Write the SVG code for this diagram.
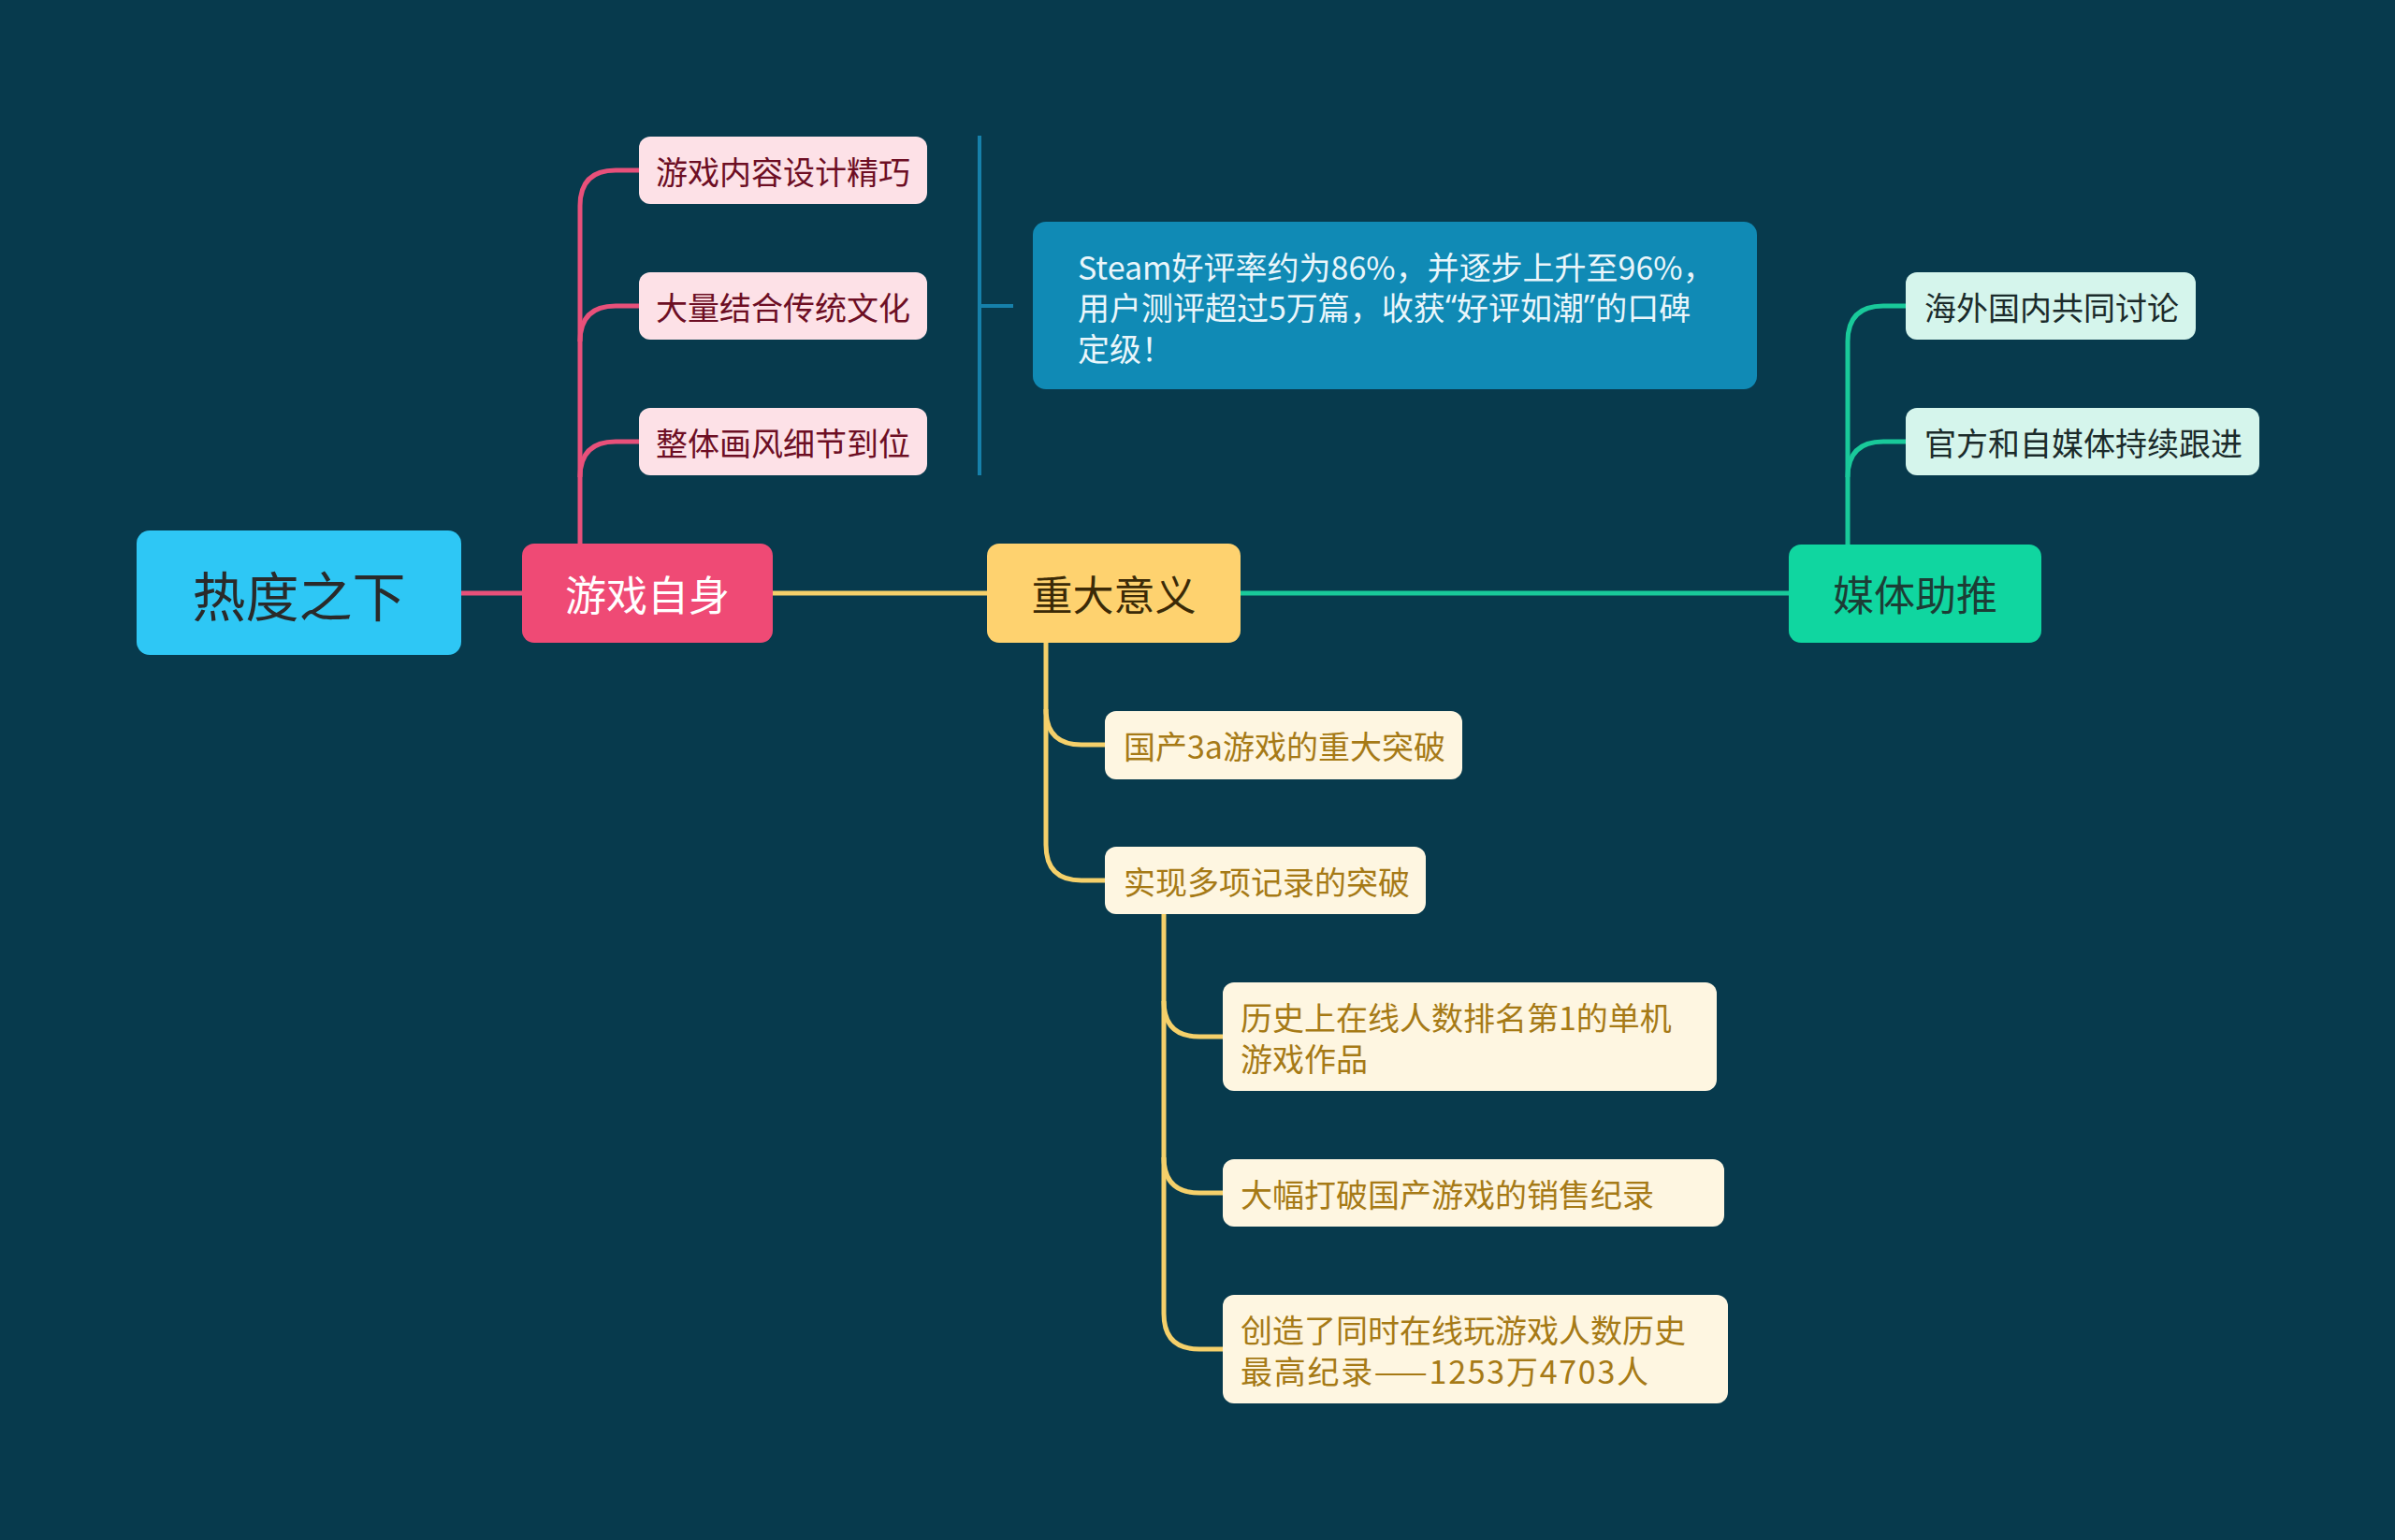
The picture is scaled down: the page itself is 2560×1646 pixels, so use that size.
<svg xmlns="http://www.w3.org/2000/svg" width="2560" height="1646" viewBox="0 0 2560 1646">
<style>
text{font-family:"Noto Sans CJK SC","Noto Sans",sans-serif;}
.c{text-anchor:middle;dominant-baseline:central;}
.l{text-anchor:start;dominant-baseline:central;}
.q{font-family:"Noto Sans","DejaVu Sans",sans-serif;}
.pk{stroke:#e8507a;stroke-width:5;fill:none;}
.yl{stroke:#f5d06a;stroke-width:5;fill:none;}
.tl{stroke:#19c99a;stroke-width:5;fill:none;}
.bl{stroke:#1680aa;stroke-width:4;fill:none;}
.sub{font-size:34px;}
.main{font-size:44px;}
</style>
<rect x="0" y="0" width="2560" height="1646" fill="#073a4d"/>
<g id="connectors">
<path class="pk" d="M493 634 H558"/>
<path class="pk" d="M620 581 V220 Q620 182 658 182 H683"/>
<path class="pk" d="M620 365 Q620 327 658 327 H683"/>
<path class="pk" d="M620 510 Q620 472 658 472 H683"/>
<path class="yl" d="M826 634 H1055"/>
<path class="yl" d="M1118 687 V903 Q1118 941 1156 941 H1181"/>
<path class="yl" d="M1118 758 Q1118 796 1156 796 H1181"/>
<path class="yl" d="M1244 977 V1404 Q1244 1442 1282 1442 H1307"/>
<path class="yl" d="M1244 1070 Q1244 1108 1282 1108 H1307"/>
<path class="yl" d="M1244 1237 Q1244 1275 1282 1275 H1307"/>
<path class="tl" d="M1326 634 H1912"/>
<path class="tl" d="M1975 582 V365 Q1975 327 2013 327 H2037"/>
<path class="tl" d="M1975 510 Q1975 472 2013 472 H2037"/>
<path class="bl" d="M1047 145 V508 M1047 327 H1083"/>
</g>
<g id="root">
<rect x="146" y="567" width="347" height="133" rx="14" fill="#2ec7f5"/>
<text class="c" x="319.5" y="634" font-size="57" fill="#2a2a2a">热度之下</text>
</g>
<g id="n-game">
<rect x="558" y="581" width="268" height="106" rx="13" fill="#ef4a75"/>
<text class="c main" x="692" y="634" fill="#ffffff">游戏自身</text>
</g>
<g id="n-game-1">
<rect x="683" y="146" width="308" height="72" rx="12" fill="#fde1e7"/>
<text class="l sub" x="701" y="182" fill="#6d0e24">游戏内容设计精巧</text>
</g>
<g id="n-game-2">
<rect x="683" y="291" width="308" height="72" rx="12" fill="#fde1e7"/>
<text class="l sub" x="701" y="327" fill="#6d0e24">大量结合传统文化</text>
</g>
<g id="n-game-3">
<rect x="683" y="436" width="308" height="72" rx="12" fill="#fde1e7"/>
<text class="l sub" x="701" y="472" fill="#6d0e24">整体画风细节到位</text>
</g>
<g id="n-summary">
<rect x="1104" y="237" width="774" height="179" rx="14" fill="#108ab5"/>
<text class="l sub" x="1152" y="284" fill="#eaf6fb">Steam好评率约为86%，并逐步上升至96%，</text>
<text class="l sub" x="1152" y="327" fill="#eaf6fb">用户测评超过5万篇，收获<tspan class="q">“</tspan>好评如潮<tspan class="q">”</tspan>的口碑</text>
<text class="l sub" x="1152" y="371" fill="#eaf6fb">定级！</text>
</g>
<g id="n-meaning">
<rect x="1055" y="581" width="271" height="106" rx="13" fill="#fed26f"/>
<text class="c main" x="1190.5" y="634" fill="#3b2a07">重大意义</text>
</g>
<g id="n-meaning-1">
<rect x="1181" y="760" width="382" height="73" rx="12" fill="#fef6e1"/>
<text class="l sub" x="1201" y="796.5" fill="#a67a16">国产3a游戏的重大突破</text>
</g>
<g id="n-meaning-2">
<rect x="1181" y="905" width="343" height="72" rx="12" fill="#fef6e1"/>
<text class="l sub" x="1201" y="941" fill="#a67a16">实现多项记录的突破</text>
</g>
<g id="n-record-1">
<rect x="1307" y="1050" width="528" height="116" rx="12" fill="#fef6e1"/>
<text class="l sub" x="1326" y="1086" fill="#a67a16">历史上在线人数排名第1的单机</text>
<text class="l sub" x="1326" y="1130" fill="#a67a16">游戏作品</text>
</g>
<g id="n-record-2">
<rect x="1307" y="1239" width="536" height="72" rx="12" fill="#fef6e1"/>
<text class="l sub" x="1326" y="1275" fill="#a67a16">大幅打破国产游戏的销售纪录</text>
</g>
<g id="n-record-3">
<rect x="1307" y="1384" width="540" height="116" rx="12" fill="#fef6e1"/>
<text class="l sub" x="1326" y="1420" fill="#a67a16">创造了同时在线玩游戏人数历史</text>
<text class="l sub" x="1326" y="1464" fill="#a67a16" textLength="436" lengthAdjust="spacing">最高纪录——1253万4703人</text>
</g>
<g id="n-media">
<rect x="1912" y="582" width="270" height="105" rx="13" fill="#10d6a0"/>
<text class="c main" x="2047" y="634" fill="#1c3d35">媒体助推</text>
</g>
<g id="n-media-1">
<rect x="2037" y="291" width="310" height="72" rx="12" fill="#d5f5ec"/>
<text class="l sub" x="2057" y="327" fill="#1b2b2b">海外国内共同讨论</text>
</g>
<g id="n-media-2">
<rect x="2037" y="436" width="378" height="72" rx="12" fill="#d5f5ec"/>
<text class="l sub" x="2057" y="472" fill="#1b2b2b">官方和自媒体持续跟进</text>
</g>
</svg>
